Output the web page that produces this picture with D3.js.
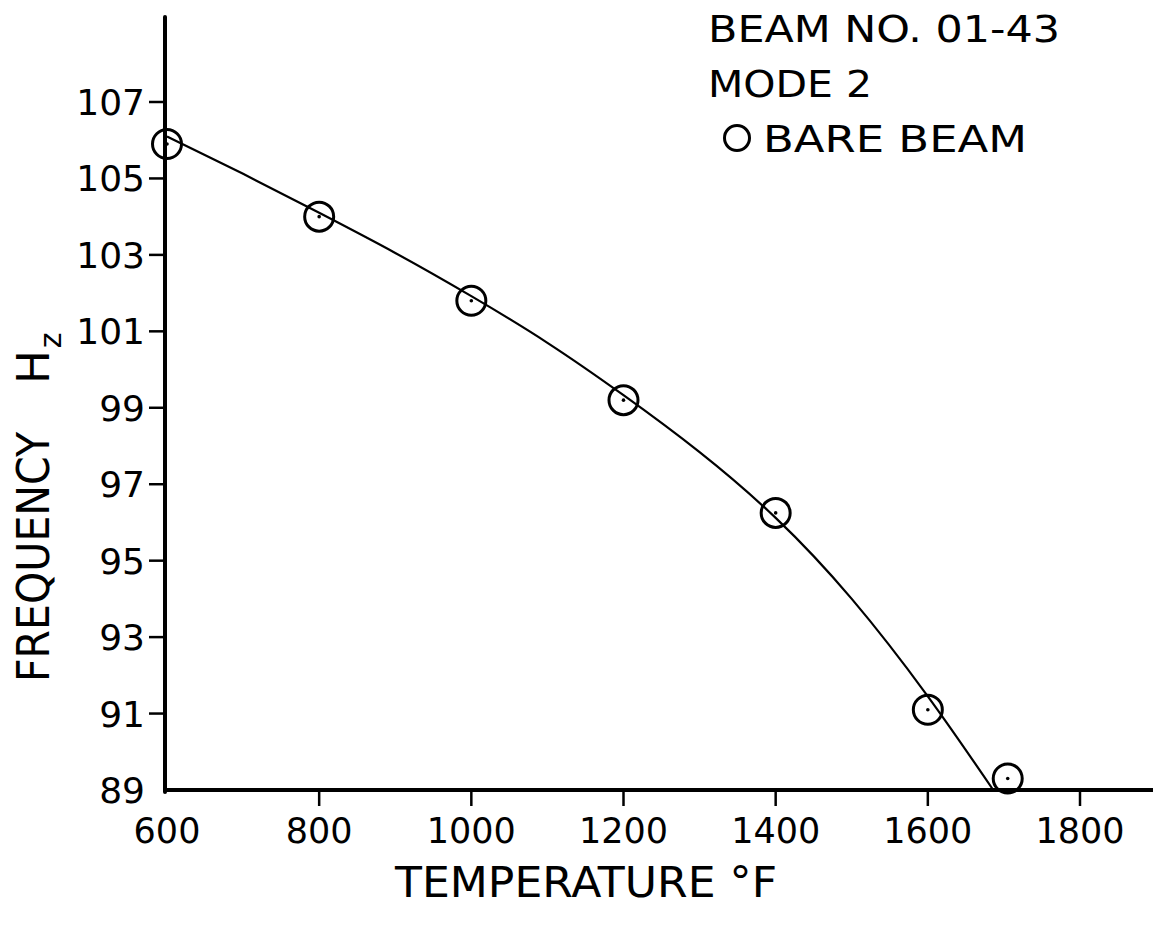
<!DOCTYPE html>
<html>
<head>
<meta charset="utf-8">
<script src="https://cdn.jsdelivr.net/npm/d3@7"></script>
<style>
  html, body { margin: 0; padding: 0; background: #fff; }
  svg { display: block; }
  text { font-family: "DejaVu Sans", sans-serif; fill: #000; }
</style>
</head>
<body>
<svg id="chart" width="1153" height="926"></svg>
<script>
// ---- data ----
const temperatures = [600, 800, 1000, 1200, 1400, 1600, 1705];
const frequencies  = [105.9, 104.0, 101.8, 99.2, 96.25, 91.1, 89.3];
const dottedPoints = [false, false, false, false, false, true, true];

// faired curve drawn through the data
const curveTemps = [600, 700, 800, 900, 1000, 1100, 1200, 1300, 1400, 1500, 1600, 1686];
const curveFreqs = [106.1, 105.12, 104.1, 103.05, 101.92, 100.7, 99.33, 97.84, 96.12, 94.0, 91.45, 89.0];

const xTicks = [800, 1000, 1200, 1400, 1600, 1800];
const xTickLabels = ["600", "800", "1000", "1200", "1400", "1600", "1800"];
const xLabelValues = [600, 800, 1000, 1200, 1400, 1600, 1800];
const yTicks = [107, 105, 103, 101, 99, 97, 95, 93, 91, 89];

const legendLines = ["BEAM  NO. 01-43", "MODE  2", "BARE  BEAM"];

// ---- layout ----
const svg = d3.select("#chart");
const x = d3.scaleLinear().domain([600, 1800]).range([167, 1080]);
const y = d3.scaleLinear().domain([89, 107]).range([790, 102]);
const axisX = 165, axisTop = 17, axisRight = 1153;

// axes lines
svg.append("line").attr("x1", axisX).attr("x2", axisX)
  .attr("y1", axisTop).attr("y2", y(89) + 2)
  .attr("stroke", "#000").attr("stroke-width", 4).attr("stroke-linecap", "round");
svg.append("line").attr("x1", axisX).attr("x2", axisRight)
  .attr("y1", y(89)).attr("y2", y(89))
  .attr("stroke", "#000").attr("stroke-width", 4).attr("stroke-linecap", "round");

// y ticks + labels
const yg = svg.append("g");
yg.selectAll("line.yt").data(yTicks.filter(d => d !== 89)).join("line")
  .attr("x1", axisX - 16).attr("x2", axisX)
  .attr("y1", d => y(d)).attr("y2", d => y(d))
  .attr("stroke", "#000").attr("stroke-width", 2.5);
yg.selectAll("text").data(yTicks).join("text")
  .attr("x", axisX - 20)
  .attr("y", d => y(d))
  .attr("dy", "0.36em")
  .attr("text-anchor", "end")
  .attr("font-size", 36)
  .text(d => d);

// x ticks + labels
const xg = svg.append("g");
xg.selectAll("line").data(xTicks).join("line")
  .attr("x1", d => x(d)).attr("x2", d => x(d))
  .attr("y1", y(89)).attr("y2", y(89) + 16)
  .attr("stroke", "#000").attr("stroke-width", 2.5);
xg.selectAll("text").data(xLabelValues).join("text")
  .attr("x", d => x(d))
  .attr("y", 843)
  .attr("text-anchor", "middle")
  .attr("font-size", 35)
  .text((d, i) => xTickLabels[i]);

// axis titles
svg.append("text")
  .attr("x", 395).attr("y", 897)
  .attr("font-size", 43)
  .attr("textLength", 382).attr("lengthAdjust", "spacingAndGlyphs")
  .text("TEMPERATURE °F");

const yt = svg.append("text")
  .attr("transform", "translate(49,682) rotate(-90)")
  .attr("font-size", 45);
yt.append("tspan").attr("textLength", 250).attr("lengthAdjust", "spacingAndGlyphs").text("FREQUENCY");
yt.append("tspan").attr("dx", 48).text("H");
yt.append("tspan").attr("font-size", 30).attr("dx", 2).attr("dy", 12).text("z");

// fitted curve
const line = d3.line().x(d => x(d[0])).y(d => y(d[1])).curve(d3.curveNatural);
svg.append("path")
  .datum(curveTemps.map((t, i) => [t, curveFreqs[i]]))
  .attr("d", line)
  .attr("fill", "none").attr("stroke", "#000").attr("stroke-width", 2.2);

// data markers
const pts = temperatures.map((t, i) => ({t, f: frequencies[i], dot: dottedPoints[i]}));
svg.selectAll("circle.pt").data(pts).join("circle")
  .attr("class", "pt")
  .attr("cx", d => x(d.t)).attr("cy", d => y(d.f)).attr("r", 14.5)
  .attr("fill", "none").attr("stroke", "#000").attr("stroke-width", 3);
svg.selectAll("circle.dot").data(pts).join("circle")
  .attr("class", "dot")
  .attr("cx", d => x(d.t)).attr("cy", d => y(d.f)).attr("r", 1.8)
  .attr("fill", "#000");

// legend
const lg = svg.append("g");
lg.append("text").attr("x", 708).attr("y", 42).attr("font-size", 37)
  .attr("textLength", 352).attr("lengthAdjust", "spacingAndGlyphs").text(legendLines[0]);
lg.append("text").attr("x", 708).attr("y", 97).attr("font-size", 37)
  .attr("textLength", 164).attr("lengthAdjust", "spacingAndGlyphs").text(legendLines[1]);
lg.append("circle").attr("cx", 737).attr("cy", 138).attr("r", 12.5)
  .attr("fill", "none").attr("stroke", "#000").attr("stroke-width", 3);
lg.append("text").attr("x", 763).attr("y", 152).attr("font-size", 37)
  .attr("textLength", 264).attr("lengthAdjust", "spacingAndGlyphs").text(legendLines[2]);
</script>
</body>
</html>
